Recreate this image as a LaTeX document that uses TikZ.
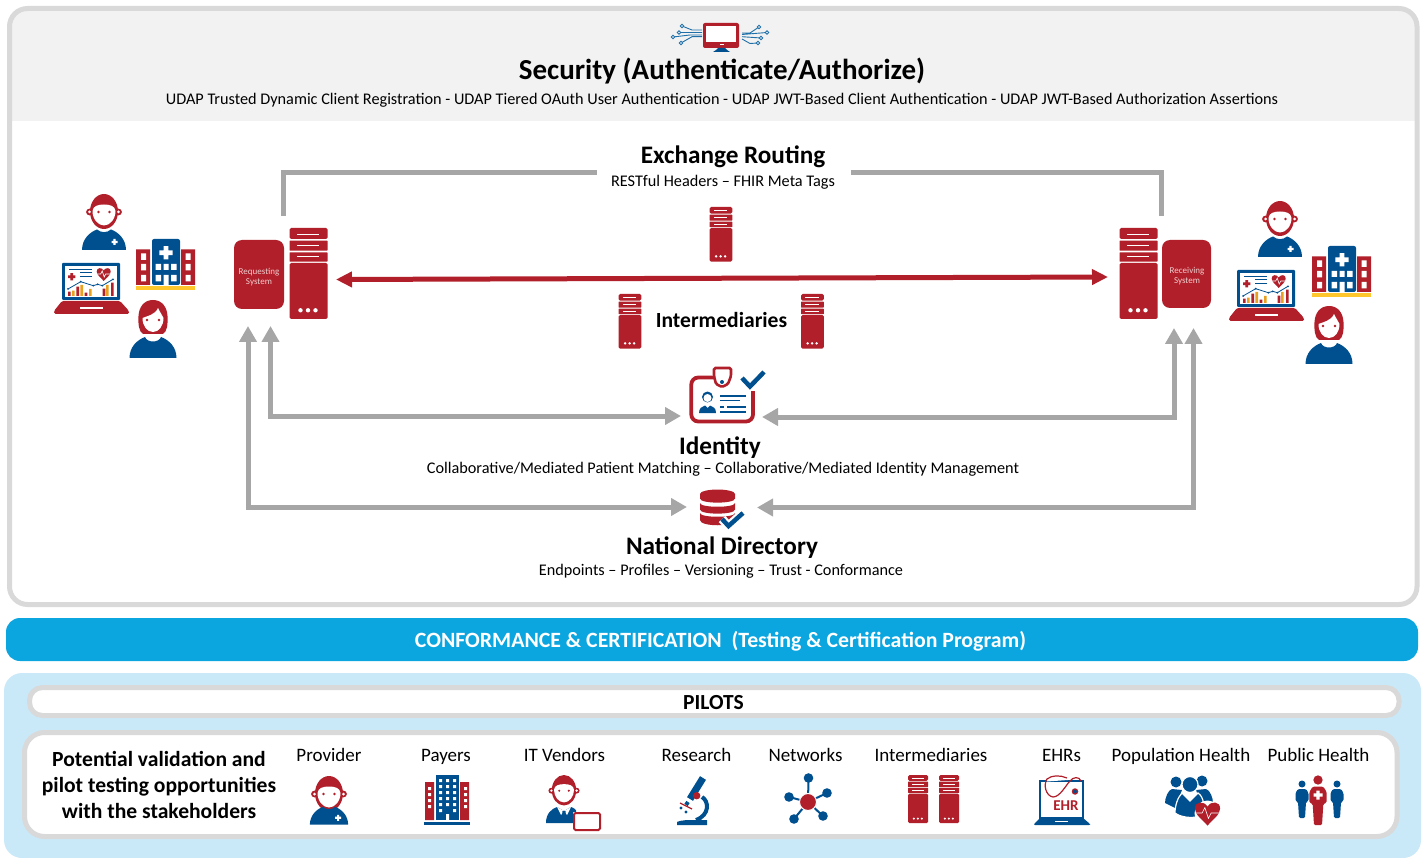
\documentclass[tikz,border=0pt]{standalone}
\usepackage{fontspec}
\setmainfont{Carlito}
\usetikzlibrary{arrows.meta}

\definecolor{redd}{HTML}{B01F2A}
\definecolor{blued}{HTML}{00508F}
\definecolor{frameg}{HTML}{D9D9D9}
\definecolor{arrowg}{HTML}{A6A6A6}
\definecolor{headg}{HTML}{F2F2F2}
\definecolor{barblue}{HTML}{0BA5E0}
\definecolor{panelblue}{HTML}{C9E9F9}
\definecolor{yelo}{HTML}{FFC72C}
\definecolor{orng}{HTML}{E8A020}
\definecolor{circ}{HTML}{1F6FA8}
\definecolor{sysg}{HTML}{F0CDCD}

\tikzset{
  bigtitle/.style={inner sep=0pt,font=\bfseries\fontsize{29}{31}\selectfont},
  subhead/.style={inner sep=0pt,font=\bfseries\fontsize{25.2}{27}\selectfont},
  subtext/.style={inner sep=0pt,font=\fontsize{16.25}{18}\selectfont},
  stake/.style={inner sep=0pt,anchor=base,font=\fontsize{19}{21}\selectfont},
  systext/.style={inner sep=0pt,align=center,text=sysg,font=\fontsize{9}{10}\selectfont},
  grayarrow/.style={draw=arrowg,line width=5pt,{Triangle[length=16pt,width=17pt]}-{Triangle[length=16pt,width=17pt]}},
  grayline/.style={draw=arrowg,line width=5pt},
  tick/.style={draw=blued,line width=4.5pt},
  plus/.pic={\fill (-1.1,-3) rectangle (1.1,3) (-3,-1.1) rectangle (3,1.1);},
  heart/.pic={
    \fill[redd] (0,7) .. controls (-3,3.5) and (-7,1) .. (-7,-2.5) .. controls (-7,-6.5) and (-2,-7) .. (0,-3.5) .. controls (2,-7) and (7,-6.5) .. (7,-2.5) .. controls (7,1) and (3,3.5) .. (0,7) -- cycle;
    \draw[white,line width=.6pt] (-7,0) -- (-3,0) -- (-1.5,-3) -- (.5,3) -- (2,0) -- (7,0);
  },
  server/.pic={
    \fill[redd,rounded corners=1.5pt] (0,0) rectangle (38,11);
    \fill[redd,rounded corners=.5pt] (0,12.7) rectangle (38,22.7);
    \fill[redd,rounded corners=.5pt] (0,24.3) rectangle (38,33.7);
    \fill[redd,rounded corners=1.5pt] (0,35) rectangle (38,91);
    \draw[white,line width=.9pt] (7.3,6) -- (29.7,6) (7.3,17.7) -- (29.7,17.7) (7.3,28.7) -- (29.7,28.7);
    \fill[white] (11,82.3) circle[radius=2.2] (18.5,82.3) circle[radius=2.2] (26,82.3) circle[radius=2.2];
  },
  manhead/.pic={
    \fill[redd] (0,17.5) ellipse[x radius=14,y radius=17.5];
    \fill[redd] (-14.5,18) circle[radius=3.4] (14.5,18) circle[radius=3.4];
    \fill[white] (-11.5,17) .. controls (-11,12) and (-6,10.5) .. (0,10.5) .. controls (6,10.5) and (11,12) .. (11.5,17) .. controls (11.5,25) and (6,31.5) .. (0,31.5) .. controls (-6,31.5) and (-11.5,25) .. (-11.5,17) -- cycle;
    \fill[white] (-14.5,18) circle[radius=1.5] (14.5,18) circle[radius=1.5];
    \fill[redd] (-5.5,18) circle[radius=1.3] (5.5,18) circle[radius=1.3];
  },
  man/.pic={
    \pic at (0,0) {manhead};
    \fill[blued] (-22,56) .. controls (-22,45) and (-14,38) .. (-7,35.5) .. controls (-3,39) and (3,39) .. (7,35.5) .. controls (14,38) and (22,45) .. (22,56) -- cycle;
    \pic[white] at (10.5,48) {plus};
  },
  woman/.pic={
    \fill[redd] (0,0) .. controls (-9,0) and (-14,7) .. (-14.5,16) .. controls (-15,24) and (-14,32) .. (-10,34) -- (10,34) .. controls (14,32) and (15,24) .. (14.5,16) .. controls (14,7) and (9,0) .. (0,0) -- cycle;
    \fill[white] (-10.5,18) .. controls (-6,16) and (2,15) .. (5,8) .. controls (7,12) and (9,15) .. (10.5,18) .. controls (10.5,26) and (6,32) .. (0,32) .. controls (-6,32) and (-10.5,26) .. (-10.5,18) -- cycle;
    \fill[redd] (-6,20) circle[radius=1.3] (6,20) circle[radius=1.3];
    \fill[blued] (-23.5,58) .. controls (-23.5,47) and (-16,40) .. (-8,37) .. controls (-6,43) and (6,43) .. (8,37) .. controls (16,40) and (23.5,47) .. (23.5,58) -- cycle;
  },
  hospital/.pic={
    \fill[redd] (0,10.5) rectangle (14,46) (45,10.5) rectangle (59,46);
    \fill[blued,rounded corners=2pt] (16,0) rectangle (44,46);
    \fill[yelo] (0,47) rectangle (59,51);
    \fill[white] (5,14.5) rectangle (10,21) (5,25) rectangle (10,31.5) (5,36) rectangle (10,42.5);
    \fill[white] (49.5,14.5) rectangle (54.5,21) (49.5,25) rectangle (54.5,31.5) (49.5,36) rectangle (54.5,42.5);
    \fill[white] (19.5,25) rectangle (25,31) (27.5,25) rectangle (32.5,31) (35,25) rectangle (40.5,31);
    \fill[white] (19.5,36) rectangle (25,42.5) (27.5,36) rectangle (32.5,46) (35,36) rectangle (40.5,42.5);
    \pic[white,scale=2.2] at (30,13.7) {plus};
  },
  laptop/.pic={
    \fill[blued,rounded corners=1pt] (8,0) rectangle (66,37);
    \fill[white] (11,3) rectangle (63,34);
    \fill[redd,rounded corners=1.5pt] (8,38) -- (66,38) -- (75,48) -- (75,51) -- (0,51) -- (0,48) -- cycle;
    \fill[white] (26,44) rectangle (49,46);
    \pic[redd,scale=1.2] at (17.7,13.7) {plus};
    \draw[blued,line width=.7pt] (15,6.3) -- (38,6.3) (26,9.7) -- (38,9.7) (26,13.7) -- (38,13.7);
    \pic at (49.7,11) {heart};
    \fill[redd] (14,28.7) rectangle (16.7,33) (22.4,23.7) rectangle (25.1,33) (30.7,29.7) rectangle (33.4,33) (48.7,25.7) rectangle (51.4,33) (57,19.7) rectangle (59.7,33);
    \fill[orng] (18,27.7) rectangle (20.7,33) (26.4,22) rectangle (29.1,33) (35,26) rectangle (37.7,33) (52,22) rectangle (54.7,33);
    \draw[blued,line width=.8pt] (14,26) -- (26.7,18.7) -- (39.3,22.7) -- (43.7,21.3) -- (48.3,22.7) -- (59,16.3);
    \fill[blued] (14,26) circle[radius=1] (26.7,18.7) circle[radius=1] (39.3,22.7) circle[radius=1] (43.7,21.3) circle[radius=1] (48.3,22.7) circle[radius=1] (59,16.3) circle[radius=1];
  },
  standing/.pic={
    \fill (0,0) circle[radius=3.5];
    \fill[rounded corners=1.3pt] (-4,5) -- (4,5) -- (6.5,9) -- (6.5,17) -- (4,18) -- (3,34) -- (-3,34) -- (-4,18) -- (-6.5,17) -- (-6.5,9) -- cycle;
  },
}

\begin{document}
\begin{tikzpicture}[x=1pt,y=-1pt]
\useasboundingbox (0,0) rectangle (1424,858);

\begin{scope}
\clip (0,0) rectangle (1424,121);
\fill[headg,rounded corners=18pt] (9.5,8.5) rectangle (1417,604.5);
\end{scope}
\draw[frameg,line width=5pt,rounded corners=18pt] (9.5,8.5) rectangle (1417,604.5);

\fill[barblue,rounded corners=14pt] (6,618) rectangle (1418,661);
\fill[panelblue,rounded corners=18pt] (4,673) rectangle (1421,858);
\draw[frameg,fill=white,line width=5pt,rounded corners=13pt] (29.5,687.5) rectangle (1399,715.5);
\draw[frameg,fill=white,line width=5pt,rounded corners=20pt] (24.5,732.5) rectangle (1397,836.5);

% monitor
\fill[redd,rounded corners=2pt] (703,23) rectangle (739,48);
\fill[white] (706,26) rectangle (736,42);
\fill[white] (720,44) rectangle (724,45.5);
\fill[blued] (713,52) -- (716,50) -- (718,48) -- (725,48) -- (727,50) -- (730,52) -- cycle;
\draw[circ,line width=.9pt] (702,30) -- (692,30) -- (682,26) (702,32.5) -- (679,32.5) (702,35) -- (690,35) -- (673,37) (702,36.7) -- (692,36.7) -- (681,43);
\draw[circ,line width=.9pt] (742,33) -- (750,33) -- (759,27) (742,34.5) -- (767,32.5) (742,36.7) -- (761,38) (742,39) -- (750,43.5) -- (758,43);
\draw[circ,fill=white,line width=.8pt] (682,26) circle[radius=1.8] (679,32.5) circle[radius=1.8] (673,37) circle[radius=1.8] (681,43) circle[radius=1.8];
\draw[circ,fill=white,line width=.8pt] (759,27) circle[radius=1.8] (767,32.5) circle[radius=1.8] (761,38) circle[radius=1.8] (758,43) circle[radius=1.8];

\node[bigtitle] (security) at (722,71.5) {Security (Authenticate/Authorize)};
\node[subtext] (udap) at (722,100) {UDAP Trusted Dynamic Client Registration - UDAP Tiered OAuth User Authentication - UDAP JWT-Based Client Authentication - UDAP JWT-Based Authorization Assertions};

\node[subhead] (routing) at (733,157) {Exchange Routing};
\node[subtext] (headers) at (723,182) {RESTful Headers -- FHIR Meta Tags};

\coordinate (routeA) at (283,216);
\coordinate (routeB) at (597,173);
\coordinate (routeC) at (851,173);
\coordinate (routeD) at (1161,216);
\draw[grayline] (routeA) |- (routeB);
\draw[grayline] (routeC) -| (routeD);

% systems
\node[fill=redd,rounded corners=8pt,minimum width=50pt,minimum height=69pt,inner sep=0pt] (reqbox) at (259,274.5) {};
\node[systext] (reqtext) at (259,277) {Requesting\\System};
\node[fill=redd,rounded corners=8pt,minimum width=49pt,minimum height=68pt,inner sep=0pt] (recbox) at (1186.5,274) {};
\node[systext] (rectext) at (1187,276.5) {Receiving\\System};
\pic at (289.5,228) {server};
\pic at (1119.5,228) {server};

\pic[scale=.6] at (709.5,207) {server};
\pic[scale=.6] at (618.5,294) {server};
\pic[scale=.6] at (801,294) {server};
\node[inner sep=0pt,font=\bfseries\fontsize{21.6}{23}\selectfont] (interm) at (721.5,320.5) {Intermediaries};

\coordinate (redL) at (336,279.5);
\coordinate (redR) at (1108,277);
\draw[redd,line width=5pt,{Triangle[length=16pt,width=15pt]}-{Triangle[length=16pt,width=15pt]}] (redL) -- (redR);

% left people
\pic at (104,194) {man};
\pic at (153,300) {woman};
\pic at (136,239) {hospital};
\pic at (54,263) {laptop};
% right people
\pic at (1280,201) {man};
\pic at (1329,306) {woman};
\pic at (1312,246) {hospital};
\pic at (1229,270) {laptop};

% identity
\draw[redd,line width=3.8pt,rounded corners=7pt] (718,377.5) -- (691.3,377.5) -- (691.3,421.5) -- (753,421.5) -- (753,391);
\draw[redd,fill=white,line width=2.6pt,rounded corners=1.5pt] (714,368) -- (731,368) -- (731,376) -- (728,384) -- (722,387) -- (716,384) -- (714,376) -- cycle;
\fill[blued] (722,382) circle[radius=2];
\draw[tick] (742,378) -- (750,386.5) -- (764,372);
\fill[blued] (707.5,397) circle[radius=5.5];
\fill[white] (707.5,398) circle[radius=4];
\fill[blued] (699,413) .. controls (699,408) and (702,406.5) .. (705,405.5) -- (707.5,408) -- (710,405.5) .. controls (713,406.5) and (716,408) .. (716,413) -- cycle;
\draw[blued,line width=1.1pt] (720,396) -- (746,396) (720,400.5) -- (740,400.5) (720,407) -- (724,407) (727,407) -- (746,407) (720,412) -- (746,412);
\node[subhead] (identity) at (720,448) {Identity};
\node[subtext] (matching) at (723,469) {Collaborative/Mediated Patient Matching -- Collaborative/Mediated Identity Management};

% directory
\fill[redd] (717.5,494) ellipse[x radius=17.5,y radius=4.5];
\fill[redd] (700,494) -- (700,498.5) .. controls (700,504) and (735,504) .. (735,498.5) -- (735,494) -- cycle;
\fill[redd] (700,503) .. controls (700,508) and (735,508) .. (735,503) -- (735,509.5) .. controls (735,515) and (700,515) .. (700,509.5) -- cycle;
\fill[redd] (700,513) .. controls (700,518) and (735,518) .. (735,513) -- (735,520) .. controls (735,527) and (700,527) .. (700,520) -- cycle;
\draw[white,line width=9pt] (722,519) -- (728.5,526) -- (743,513);
\draw[tick] (722,519) -- (728.5,526) -- (743,513);
\node[subhead] (directory) at (722,548) {National Directory};
\node[subtext] (endpoints) at (721,571) {Endpoints -- Profiles -- Versioning -- Trust - Conformance};

\coordinate (reqA) at (248,326);
\coordinate (reqB) at (270.5,326);
\coordinate (recA) at (1174,328);
\coordinate (recB) at (1193.5,328);
\coordinate (idL) at (681,416);
\coordinate (idR) at (762,417);
\coordinate (dirL) at (687,507);
\coordinate (dirR) at (757,507.5);
\draw[grayarrow] (reqB) |- (idL);
\draw[grayarrow] (reqA) |- (dirL);
\draw[grayarrow] (recA) |- (idR);
\draw[grayarrow] (recB) |- (dirR);

\node[inner sep=0pt,text=white,font=\bfseries\fontsize{21.8}{23}\selectfont] (conform) at (720.5,641.5) {CONFORMANCE \& CERTIFICATION\ \ (Testing \& Certification Program)};
\node[inner sep=0pt,font=\bfseries\fontsize{21.5}{23}\selectfont] (pilots) at (713.5,702.5) {PILOTS};

\node[inner sep=0pt,align=center,font=\bfseries\fontsize{21.6}{26}\selectfont] (potential) at (159,784.5) {Potential validation and\\pilot testing opportunities\\with the stakeholders};

\node[stake] (provider) at (329,761.5) {Provider};
\node[stake] (payers) at (446,761.5) {Payers};
\node[stake] (vendors) at (564.5,761.5) {IT Vendors};
\node[stake] (research) at (696.5,761.5) {Research};
\node[stake] (networks) at (805.5,761.5) {Networks};
\node[stake] (intermb) at (931,761.5) {Intermediaries};
\node[stake] (ehrs) at (1061.5,761.5) {EHRs};
\node[stake] (population) at (1181,761.5) {Population Health};
\node[stake] (public) at (1318.5,761.5) {Public Health};

% provider
\pic[scale=.87] at (329,776) {man};

% payers
\fill[redd] (425,782) rectangle (434,820) (460,782) rectangle (469,820);
\fill[blued] (436,775) rectangle (459,820);
\fill[blued] (424,822) rectangle (470,825);
\fill[white] (439,779) rectangle (442,782) (446,779) rectangle (449,782) (453,779) rectangle (456,782);
\fill[white] (439,785) rectangle (442,788) (446,785) rectangle (449,788) (453,785) rectangle (456,788);
\fill[white] (439,791) rectangle (442,794) (446,791) rectangle (449,794) (453,791) rectangle (456,794);
\fill[white] (439,797) rectangle (442,800) (446,797) rectangle (449,800) (453,797) rectangle (456,800);
\fill[white] (439,803) rectangle (442,806) (446,803) rectangle (449,806) (453,803) rectangle (456,806);
\fill[white] (439,809) rectangle (442,812) (453,809) rectangle (456,812) (446,814) rectangle (449,820);
\fill[white] (428,787) rectangle (431,790) (428,793) rectangle (431,796) (428,799) rectangle (431,802) (428,805) rectangle (431,808);
\fill[white] (464,787) rectangle (467,790) (464,793) rectangle (467,796) (464,799) rectangle (467,802) (464,805) rectangle (467,808);

% vendors
\pic[scale=.87] at (564,775) {manhead};
\fill[blued] (546,823) .. controls (546,814) and (551,809) .. (557,807) -- (564,811) -- (571,807) .. controls (574,808) and (577,810) .. (576,812) -- (573,812) -- (573,823) -- cycle;
\fill[white] (557,807) -- (564,811) -- (561,815) -- cycle (571,807) -- (564,811) -- (567,815) -- cycle;
\fill[blued] (562.5,811) -- (565.5,811) -- (566,821) -- (562,821) -- cycle;
\draw[redd,fill=white,line width=2pt,rounded corners=1.5pt] (574,813) rectangle (600,830);

% microscope
\draw[blued,line width=7pt] (703,778) -- (690,799);
\draw[blued,line width=4pt] (688,802) -- (686,805);
\draw[blued,line width=4pt] (702,797) .. controls (709,801) and (710,815) .. (696,820);
\fill[blued] (677,825) -- (677,822) .. controls (680,820) and (690,820) .. (692,820) -- (707,820) -- (707,825) -- cycle;
\fill[redd] (696.7,795.7) circle[radius=3.7];
\draw[redd,line width=1.3pt] (680,803) -- (692,809);
\fill[blued] (681,808) circle[radius=1.7] (686,812) circle[radius=1.7];

% networks
\draw[blued,line width=2pt] (808,802) -- (808.5,778) (808,802) -- (827,793) (808,802) -- (789,797) (808,802) -- (794,819) (808,802) -- (823,816);
\fill[blued] (808.5,778) circle[radius=4.8] (827,793) circle[radius=4.8] (789,797) circle[radius=4.8] (794,819) circle[radius=4.8] (823,816) circle[radius=4.8];
\draw[white,fill=redd,line width=1pt] (808,802) circle[radius=8.5];

% intermediaries
\pic[scale=.53] at (908,775) {server};
\pic[scale=.53] at (939,775) {server};

% ehr
\draw[blued,fill=white,line width=1.8pt] (1040,781) rectangle (1083,818);
\fill[blued,rounded corners=1pt] (1040,818) -- (1083,818) -- (1090,824) -- (1090,825) -- (1034,825) -- (1034,824) -- cycle;
\draw[white,line width=1pt] (1055,821.5) -- (1068,821.5);
\draw[white,line width=3pt] (1047,780) -- (1075,778);
\draw[redd,line width=1.2pt] (1081,781) .. controls (1079,776) and (1073,777) .. (1070,781) .. controls (1066,785) and (1060,797) .. (1053,797) .. controls (1046,796) and (1043,785) .. (1047,779) .. controls (1052,775) and (1060,775) .. (1067,778);
\draw[redd,fill=blued,line width=1.2pt] (1075,791.5) circle[radius=2.6];
\node[inner sep=0pt,text=redd,font=\bfseries\fontsize{15}{16}\selectfont] (ehrtag) at (1066,806) {EHR};

% population
\fill[blued] (1176,782) circle[radius=5.5] (1202,781) circle[radius=5.5];
\fill[blued] (1172,789) .. controls (1168,790) and (1165,798) .. (1165,803) -- (1175,808) -- (1182,790) -- cycle;
\fill[blued] (1206,789) .. controls (1210,790) and (1213,798) .. (1213,803) -- (1203,808) -- (1196,790) -- cycle;
\draw[white,fill=blued,line width=1.2pt] (1190,784.5) circle[radius=8];
\draw[white,fill=blued,line width=1.2pt] (1182,793) .. controls (1178,797) and (1175,805) .. (1175,813) .. controls (1180,817) and (1192,819) .. (1199,816) .. controls (1206,808) and (1204,797) .. (1198,793) -- (1190,801) -- cycle;
\fill[white] (1207.5,813.5) circle[radius=13];
\pic[scale=1.8] at (1207.5,813) {heart};

% public health
\pic[blued] at (1302,784) {standing};
\pic[blued] at (1337,784) {standing};
\pic[redd,scale=1.33] at (1318,780) {standing};
\pic[white,scale=1.5] at (1318,795) {plus};

\end{tikzpicture}
\end{document}
